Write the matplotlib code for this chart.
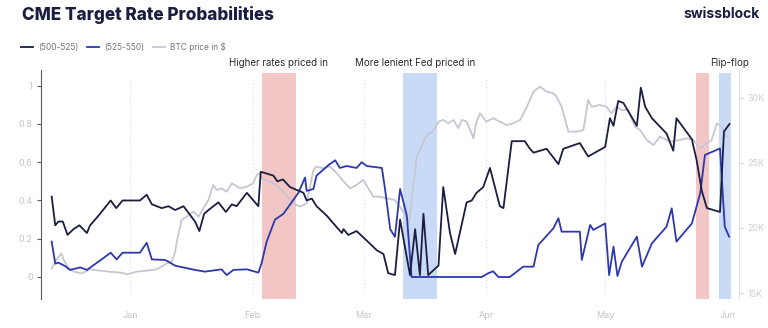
import matplotlib.pyplot as plt
from matplotlib.lines import Line2D

plt.rcParams['font.family'] = ['Inter', 'DejaVu Sans']

# days since 1 Jan 2023
low_days = [-19.8, -18.9, -18.1, -17.0, -15.8, -14.3, -12.8, -10.9, -10.1, -8.0, -4.9, -3.5, -1.9,
            2.5, 4.2, 5.5, 8.0, 9.7, 11.4, 13.5, 16.4, 17.5, 18.7, 19.8, 22.3, 24.2, 25.7, 26.9,
            29.5, 32.4, 33.0, 36.2, 37.2, 38.6, 40.4, 43.8, 44.6, 45.9, 47.1, 49.7, 52.2, 53.5,
            53.9, 55.1, 57.2, 59.8, 62.3, 64.0, 65.2, 66.9, 68.2, 69.4, 70.7, 72.0, 73.2, 74.1,
            75.3, 77.9, 79.1, 80.8, 82.1, 85.0, 86.3, 87.5, 89.2, 90.9, 93.4, 94.3, 96.4, 99.7,
            101.0, 101.9, 105.2, 108.2, 109.4, 113.6, 115.7, 120.0, 121.2, 122.1, 123.3, 124.6,
            128.0, 129.0, 130.1, 131.8, 135.5, 137.2, 138.0, 141.9, 143.1, 144.4, 145.7, 149.0,
            150.0, 151.4]
low_prob = [0.42, 0.27, 0.29, 0.29, 0.22, 0.25, 0.27, 0.23, 0.27, 0.32, 0.40, 0.36, 0.40,
            0.40, 0.43, 0.38, 0.36, 0.37, 0.35, 0.37, 0.29, 0.24, 0.33, 0.35, 0.39, 0.34, 0.38,
            0.37, 0.44, 0.37, 0.55, 0.53, 0.50, 0.51, 0.47, 0.44, 0.40, 0.41, 0.37, 0.32, 0.26,
            0.23, 0.25, 0.22, 0.24, 0.19, 0.14, 0.12, 0.02, 0.01, 0.30, 0.16, 0.01, 0.25, 0.01,
            0.33, 0.01, 0.06, 0.47, 0.23, 0.12, 0.39, 0.40, 0.44, 0.47, 0.57, 0.37, 0.36, 0.71,
            0.71, 0.67, 0.65, 0.67, 0.59, 0.67, 0.70, 0.63, 0.68, 0.83, 0.79, 0.92, 0.91, 0.79,
            0.99, 0.89, 0.83, 0.75, 0.66, 0.83, 0.72, 0.61, 0.45, 0.36, 0.34, 0.76, 0.80]

high_days = [-19.8, -18.9, -18.1, -16.4, -15.2, -12.6, -10.9, -8.0, -4.9, -3.4, -1.9, 2.5, 4.2,
             5.5, 8.8, 9.7, 11.4, 16.4, 18.9, 23.1, 24.4, 26.1, 29.5, 32.4, 33.2, 34.5, 36.6,
             38.7, 40.8, 42.5, 44.2, 44.6, 46.3, 47.1, 50.1, 51.8, 53.0, 54.7, 57.2, 58.5, 59.8,
             63.6, 64.4, 65.7, 66.9, 68.2, 69.9, 71.1, 88.8, 90.5, 91.7, 93.0, 95.9, 99.3, 101.9,
             103.1, 106.9, 108.2, 109.0, 113.6, 114.1, 116.2, 117.0, 120.0, 121.0, 122.1, 123.1,
             124.2, 128.0, 129.3, 131.8, 135.5, 136.8, 138.0, 141.9, 144.0, 145.2, 149.0, 150.2,
             151.3]
high_prob = [0.185, 0.07, 0.075, 0.057, 0.037, 0.05, 0.037, 0.08, 0.127, 0.092, 0.127, 0.127,
             0.179, 0.092, 0.089, 0.08, 0.059, 0.037, 0.028, 0.04, 0.01, 0.037, 0.04, 0.023, 0.071,
             0.185, 0.30, 0.33, 0.39, 0.44, 0.52, 0.45, 0.46, 0.53, 0.585, 0.61, 0.57, 0.58, 0.57,
             0.60, 0.58, 0.57, 0.46, 0.25, 0.21, 0.46, 0.32, 0.0, 0.0, 0.02, 0.03, 0.0, 0.0, 0.054,
             0.054, 0.167, 0.254, 0.307, 0.237, 0.237, 0.089, 0.272, 0.246, 0.28, 0.01, 0.159,
             0.005, 0.08, 0.211, 0.054, 0.176, 0.263, 0.359, 0.185, 0.28, 0.437, 0.638, 0.672,
             0.263, 0.211]

btc_days = [-19.8, -18.9, -18.1, -17.3, -16.8, -15.6, -14.3, -12.2, -10.1, -7.6, -4.6, -2.1, -0.8,
            1.7, 4.2, 6.7, 9.3, 10.5, 11.4, 11.8, 13.0, 14.3, 16.0, 17.3, 18.5, 19.8, 21.0, 21.9,
            23.1, 24.4, 25.7, 27.8, 29.5, 31.1, 32.0, 32.8, 33.2, 35.4, 36.2, 37.9, 39.6, 41.2,
            42.9, 44.6, 46.3, 47.1, 48.8, 50.5, 52.2, 54.0, 55.6, 57.2, 58.9, 60.2, 61.4, 63.1,
            64.8, 66.9, 68.2, 69.4, 70.3, 70.7, 71.5, 72.4, 73.2, 74.9, 76.2, 77.0, 77.9, 79.1,
            80.4, 81.7, 82.9, 83.8, 85.0, 85.9, 86.7, 87.5, 88.4, 90.0, 91.7, 93.4, 95.1, 96.8,
            98.5, 100.2, 101.9, 103.5, 105.2, 106.9, 107.7, 109.0, 110.7, 112.8, 114.5, 115.7,
            116.6, 118.7, 120.3, 121.6, 122.9, 124.2, 125.8, 127.5, 128.8, 130.5, 132.2, 133.8,
            136.4, 138.9, 140.6, 142.3, 144.0, 145.7, 146.9, 148.2, 149.4, 150.7]
btc_price = [16.90, 17.41, 17.79, 18.05, 17.54, 16.97, 16.64, 16.51, 16.82, 16.72, 16.62, 16.56,
             16.44, 16.64, 16.72, 16.82, 17.28, 17.41, 18.18, 18.95, 20.62, 20.87, 21.26, 20.87,
             21.51, 22.15, 23.31, 22.92, 23.05, 22.79, 23.44, 23.05, 23.18, 23.44, 24.08, 24.21,
             23.82, 23.56, 23.44, 23.05, 22.50, 21.90, 21.64, 21.90, 24.46, 24.72, 24.59, 24.72,
             24.21, 23.56, 23.05, 23.31, 23.69, 23.05, 22.41, 22.41, 22.28, 22.15, 21.64, 21.00,
             20.36, 20.87, 23.18, 25.49, 26.00, 27.15, 27.41, 27.67, 28.18, 28.31, 28.05, 28.31,
             27.67, 28.31, 28.18, 27.54, 26.90, 28.18, 28.82, 28.18, 28.44, 28.18, 27.92, 28.05,
             28.31, 29.30, 30.49, 30.87, 30.49, 30.36, 30.10, 29.33, 27.41, 27.41, 27.54, 29.85,
             29.33, 29.46, 29.33, 28.82, 29.33, 29.08, 29.08, 27.79, 27.54, 26.77, 26.38, 27.03,
             26.64, 26.77, 26.90, 26.77, 26.13, 26.51, 26.77, 28.05, 27.79, 27.03]

month_days = [0, 31, 59, 90, 120, 151]
month_labels = ['Jan', 'Feb', 'Mar', 'Apr', 'May', 'Jun']

spans = [(33.3, 41.9, '#f3c6c6'), (68.9, 77.5, '#c9daf7'),
         (142.9, 146.2, '#f3c6c6'), (148.7, 151.8, '#c9daf7')]
notes = [(37.6, 'Higher rates priced in'), (72.0, 'More lenient Fed priced in'),
         (151.5, 'Flip-flop')]

navy = '#1b1e40'
blue = '#2d38aa'
grey = '#c6c7d3'

fig = plt.figure(figsize=(7.68, 3.28), dpi=100)
ax = fig.add_axes([41 / 768, 29 / 328, 698 / 768, 229 / 328])
ax2 = ax.twinx()
ax.set_zorder(ax2.get_zorder() + 1)
ax.patch.set_visible(False)

for x0, x1, c in spans:
    ax2.axvspan(x0, x1, ymin=0, ymax=0.985, color=c, lw=0, zorder=0)
for d in month_days:
    ax2.axvline(d, color='#dedede', lw=0.8, ls=(0, (1, 2)), ymin=0.02, ymax=0.97, zorder=0.5)

ax2.plot(btc_days, btc_price, color=grey, lw=1.3, zorder=1)
ax.plot(low_days, low_prob, color=navy, lw=1.3, zorder=3)
ax.plot(high_days, high_prob, color=blue, lw=1.3, zorder=2)

ax.set_xlim(-22.5, 153.8)
ax.set_ylim(-0.115, 1.082)
ax2.set_ylim(14.54, 32.15)

ax.set_yticks([0, 0.2, 0.4, 0.6, 0.8, 1])
ax.set_yticklabels(['0', '0.2', '0.4', '0.6', '0.8', '1'])
ax2.set_yticks([15, 20, 25, 30])
ax2.set_yticklabels(['15K', '20K', '25K', '30K'])
ax.set_xticks(month_days)
ax.set_xticklabels(month_labels)

for a in (ax, ax2):
    a.spines['top'].set_visible(False)
    a.spines['bottom'].set_visible(False)
ax.spines['right'].set_visible(False)
ax2.spines['left'].set_visible(False)
ax.spines['left'].set_color('#5a5a66')
ax2.spines['right'].set_color('#e2e2e6')

ax.tick_params(axis='y', colors='#5a5a66', labelcolor='#c4c4c4', labelsize=6.5, length=3, width=0.8, pad=3)
ax2.tick_params(axis='y', colors='#d8d8dc', labelcolor='#d0d0d4', labelsize=6.5, length=3, width=0.8, pad=3)
ax.tick_params(axis='x', length=0, labelcolor='#c4c4c4', labelsize=6.5, pad=9)

for d, t in notes:
    ax.text(d, 1.032, t, transform=ax.get_xaxis_transform(), ha='center', va='center',
            fontsize=7, color='#2a2a2a')

fig.text(22 / 768, 1 - 15 / 328, 'CME Target Rate Probabilities', fontsize=12.3, fontweight='heavy',
         color=navy, va='center', ha='left')
fig.text(760 / 768, 1 - 14 / 328, 'swissblock', fontsize=10, fontweight='bold',
         color=navy, va='center', ha='right')

handles = [Line2D([], [], color=navy, lw=1.3), Line2D([], [], color=blue, lw=1.3),
           Line2D([], [], color=grey, lw=1.3)]
fig.legend(handles, ['(500-525)', '(525-550)', 'BTC price in $'], loc='center left',
           bbox_to_anchor=(21 / 768, 1 - 47 / 328), ncol=3, frameon=False, fontsize=6,
           handlelength=1.4, handletextpad=0.6, columnspacing=1.1, borderpad=0,
           borderaxespad=0, labelcolor='#777777')

fig.savefig('out.png', dpi=100)
